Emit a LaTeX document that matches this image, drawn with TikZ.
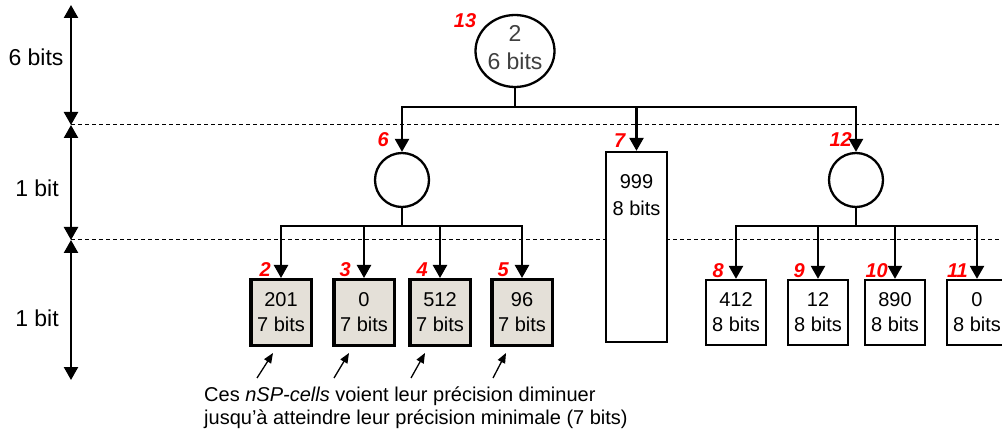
\documentclass[tikz,border=0pt]{standalone}
\usepackage{fontspec}
\setmainfont{Liberation Sans}
\usetikzlibrary{arrows.meta, positioning, shapes.geometric}
\definecolor{cellgray}{HTML}{E4E0D8}
\definecolor{rootgray}{HTML}{404040}

\begin{document}
\begin{tikzpicture}[x=1pt, y=1pt,
    link/.style={line width=2.4pt},
    edge/.style={line width=2.4pt, -{Triangle[width=14pt, length=13pt]}},
    span/.style={line width=2.4pt, {Triangle[width=14pt, length=13pt]}-{Triangle[width=14pt, length=13pt]}},
    level/.style={line width=1pt, dash pattern=on 4pt off 3pt},
    pointer/.style={line width=1.3pt, -{Triangle[width=8pt, length=10pt]}},
    cell/.style={draw, line width=2.3pt, fill=white, minimum width=60pt, minimum height=65pt,
        inner sep=0pt, align=center, font=\fontsize{20}{25}\selectfont},
    mincell/.style={cell, line width=3.5pt, fill=cellgray, minimum width=60.5pt, minimum height=65.5pt},
    knot/.style={circle, draw, line width=2.3pt, minimum size=54pt, inner sep=0pt},
    num/.style={text=red, inner sep=0pt, font=\fontsize{20}{20}\selectfont\bfseries\itshape},
    bits/.style={font=\fontsize{23}{26}\selectfont}]
    \useasboundingbox (0,0) rectangle (1002,437);

    % Bit scale on the left
    \coordinate (a0) at (71,432);
    \coordinate (a1) at (71,312);
    \coordinate (a2) at (71,197);
    \coordinate (a3) at (71,57);
    \draw[span] (a0) -- (a1);
    \draw[span] (a1) -- (a2);
    \draw[span] (a2) -- (a3);
    \node[bits] (s1) at (36,380) {6 bits};
    \node[bits] (s2) at (37,249) {1 bit};
    \node[bits] (s3) at (37,119) {1 bit};
    \draw[level] (a1) -- (1002,312);
    \draw[level] (a2) -- (1002,197);

    % Root
    \node[ellipse, draw, line width=2.3pt, minimum width=79pt, minimum height=72pt, inner sep=0pt] (root) at (515,386) {};
    \node[align=center, text=rootgray, font=\fontsize{23}{28}\selectfont] (rootval) at ([yshift=3pt]root.center) {2\\6 bits};
    \node[num, anchor=north east] (l13) at ([xshift=2pt, yshift=1pt]root.west |- root.north) {13};

    % Second level
    \node[knot] (n6) at (402,257) {};
    \node[cell, minimum width=61pt, minimum height=190pt] (n7) at (636.5,190) {};
    \node[align=center, font=\fontsize{20}{27}\selectfont] (n7val) at ([yshift=-44pt]n7.north) {999\\8 bits};
    \node[knot] (n12) at (856,257) {};
    \node[num, above left=5pt and 13pt of n6.north] (l6) {6};
    \node[num, above left=3pt and 11pt of n7.north] (l7) {7};
    \node[num, above left=5pt and 4pt of n12.north] (l12) {12};

    \coordinate (bar1) at (515,330);
    \draw[link] (root.south) -- (bar1);
    \draw[edge] (bar1) -| (n6.north);
    \draw[edge] (bar1) -| (n7.north);
    \draw[edge] (bar1) -| (n12.north);

    % Leaves under 6 (minimal precision)
    \node[mincell] (n2) at (281,124.5) {201\\7 bits};
    \node[mincell] (n3) at (364,124.5) {0\\7 bits};
    \node[mincell] (n4) at (440,124.5) {512\\7 bits};
    \node[mincell] (n5) at (522,124.5) {96\\7 bits};
    \node[num, above left=1pt and 10pt of n2.north] (l2) {2};
    \node[num, above left=1pt and 13pt of n3.north] (l3) {3};
    \node[num, above left=1pt and 12pt of n4.north] (l4) {4};
    \node[num, above left=1pt and 13pt of n5.north] (l5) {5};

    \coordinate (bar2) at (402,211);
    \draw[link] (n6.south) -- (bar2);
    \draw[edge] (bar2) -| (n2.north);
    \draw[edge] (bar2) -| (n3.north);
    \draw[edge] (bar2) -| (n4.north);
    \draw[edge] (bar2) -| (n5.north);

    % Leaves under 12
    \node[cell] (n8) at (736,124.5) {412\\8 bits};
    \node[cell] (n9) at (818,124.5) {12\\8 bits};
    \node[cell] (n10) at (895,124.5) {890\\8 bits};
    \node[cell] (n11) at (977,124.5) {0\\8 bits};
    \node[num, above left=1pt and 12pt of n8.north] (l8) {8};
    \node[num, above left=1pt and 13pt of n9.north] (l9) {9};
    \node[num, above left=1pt and 7pt of n10.north] (l10) {10};
    \node[num, above left=1pt and 9pt of n11.north] (l11) {11};

    \coordinate (bar3) at (856,211);
    \draw[link] (n12.south) -- (bar3);
    \draw[edge] (bar3) -| (n8.north);
    \draw[edge] (bar3) -| (n9.north);
    \draw[edge] (bar3) -| (n10.north);
    \draw[edge] (bar3) -| (n11.north);

    % Note
    \node[anchor=north west, align=left, inner sep=0pt, font=\fontsize{20}{23}\selectfont] (note) at (204,50)
        {Ces \textit{nSP-cells} voient leur précision diminuer\\jusqu’à atteindre leur précision minimale (7 bits)};
    \draw[pointer] ([shift={(-24pt,-31pt)}]n2.south) -- ([shift={(-8pt,-6pt)}]n2.south);
    \draw[pointer] ([shift={(-30pt,-31pt)}]n3.south) -- ([shift={(-15pt,-6pt)}]n3.south);
    \draw[pointer] ([shift={(-29pt,-31pt)}]n4.south) -- ([shift={(-15pt,-6pt)}]n4.south);
    \draw[pointer] ([shift={(-29pt,-31pt)}]n5.south) -- ([shift={(-16pt,-6pt)}]n5.south);
\end{tikzpicture}
\end{document}
